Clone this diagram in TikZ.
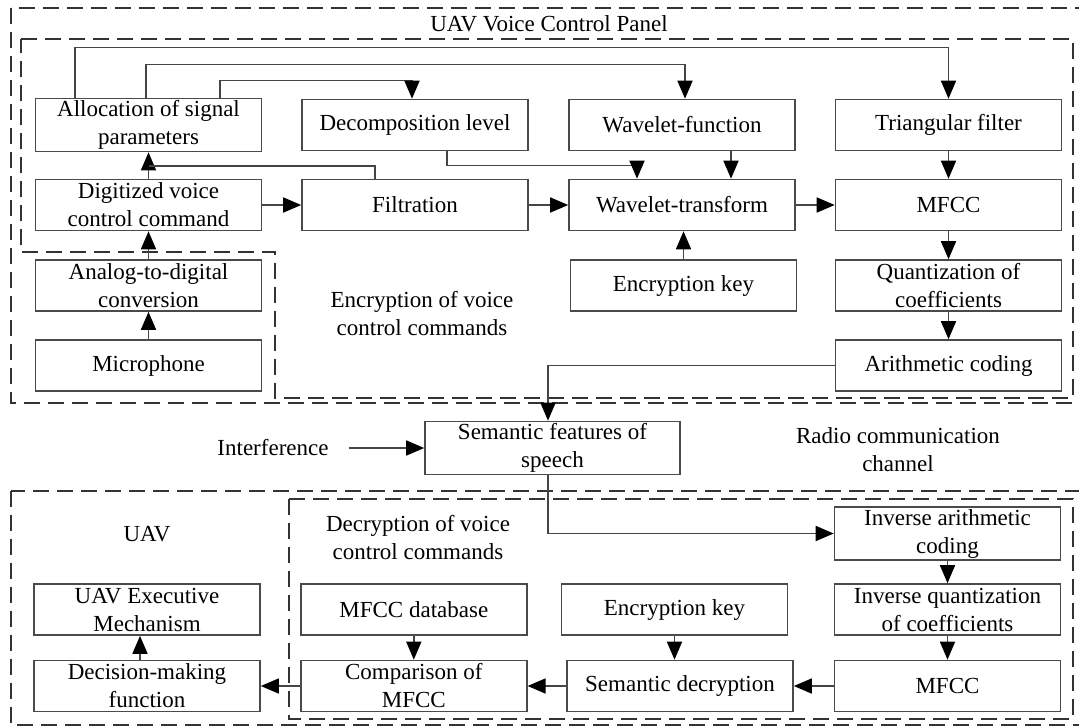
\documentclass[tikz,border=0pt]{standalone}
\usepackage{fontspec}
\setmainfont{Liberation Serif}
\usetikzlibrary{arrows.meta,calc}
\definecolor{boxc}{HTML}{4A4A4A}
\definecolor{dashc}{HTML}{333333}
\definecolor{linec}{HTML}{454545}
\begin{document}
\begin{tikzpicture}[x=1pt,y=-1pt,
  font=\fontsize{23}{28}\selectfont,
  box/.style={draw=boxc, line width=1.6pt, minimum width=226pt, minimum height=51pt, align=center, inner sep=2pt},
  conn/.style={draw=linec, line width=1.6pt},
  arr/.style={conn, -{Triangle[length=18pt,width=15pt,color=black]}},
  dashbox/.style={draw=dashc, line width=2.4pt, dash pattern=on 16pt off 8pt},
  lbl/.style={align=center, inner sep=0pt}]
\useasboundingbox (0,0) rectangle (1079,726);

% dashed frames
\draw[dashbox] (11,8) rectangle (1092,403);
\draw[dashbox] (21,39) -- (1073,39) -- (1073,398) -- (275,398) -- (275,252) -- (21,252) -- cycle;
\draw[dashbox] (11,491) rectangle (1092,725);
\draw[dashbox] (289,499) rectangle (1073,719);

% labels
\node[lbl] (ttl) at (549,24) {UAV Voice Control Panel};
\node[lbl] (enc) at (422,314) {Encryption of voice\\control commands};
\node[lbl] (radio) at (898,450) {Radio communication\\channel};
\node[lbl] (uav) at (147,534) {UAV};
\node[lbl] (decr) at (418,538) {Decryption of voice\\control commands};
\node[lbl] (intf) at (273,448) {Interference};

% top panel boxes
\node[box] (alloc) at (148.5,125) {Allocation of signal\\parameters};
\node[box] (dec) at (415,125) {Decomposition level};
\node[box] (wf) at (682,125) {Wavelet-function};
\node[box] (tri) at (948.5,125) {Triangular filter};
\node[box] (dig) at (148.5,205) {Digitized voice\\control command};
\node[box] (filt) at (415,205) {Filtration};
\node[box] (wt) at (682,205) {Wavelet-transform};
\node[box] (mf1) at (948.5,205) {MFCC};
\node[box] (adc) at (148.5,285.5) {Analog-to-digital\\conversion};
\node[box] (key1) at (683.5,285.5) {Encryption key};
\node[box] (quant) at (948.5,285.5) {Quantization of\\coefficients};
\node[box] (mic) at (148.5,365.5) {Microphone};
\node[box] (arith) at (948.5,365.5) {Arithmetic coding};

% middle
\node[box, minimum width=255pt, minimum height=50pt] (sem) at (552.5,448) {Semantic features of\\speech};

% bottom panel boxes
\node[box] (iac) at (947.5,533.5) {Inverse arithmetic\\coding};
\node[box] (exe) at (147,609.5) {UAV Executive\\Mechanism};
\node[box] (db) at (413.8,609.5) {MFCC database};
\node[box] (key2) at (674.5,609.5) {Encryption key};
\node[box] (iq) at (947.5,609.5) {Inverse quantization\\of coefficients};
\node[box] (dm) at (147,686) {Decision-making\\function};
\node[box] (cmp) at (413.8,686) {Comparison of\\MFCC};
\node[box] (sd) at (680,686) {Semantic decryption};
\node[box] (mf2) at (947.5,686) {MFCC};

% top connectors
\draw[arr] ([xshift=40pt]alloc.north west) -- ++(0,-50) -| (tri.north);
\draw[arr] ([xshift=111pt]alloc.north west) -- ++(0,-33) -| ([xshift=3pt]wf.north);
\draw[arr] ([xshift=185pt]alloc.north west) -- ++(0,-17) -| ([xshift=-3pt]dec.north);
\draw[arr] (dig.north) -- (alloc.south);
\coordinate (j1) at (148.5,166);
\draw[conn] ([xshift=-40pt]filt.north) |- (j1);
\draw[arr] ([xshift=32pt]dec.south) -- ++(0,14) -| ([xshift=-45pt]wt.north);
\draw[arr] ([xshift=49pt]wf.south) -- ([xshift=49pt]wt.north);
\draw[arr] (tri.south) -- (mf1.north);
\draw[arr] (dig.east) -- (filt.west);
\draw[arr] (filt.east) -- (wt.west);
\draw[arr] (wt.east) -- (mf1.west);
\draw[arr] (key1.north) -- (key1.north |- wt.south);
\draw[arr] (mf1.south) -- (quant.north);
\draw[arr] (quant.south) -- (arith.north);
\draw[arr] (adc.north) -- (dig.south);
\draw[arr] (mic.north) -- (adc.south);
\draw[arr] (arith.west) -| ([xshift=-4.5pt]sem.north);
\draw[arr] ([xshift=20pt]intf.east) -- (sem.west);

% bottom connectors
\draw[arr] ([xshift=-4.5pt]sem.south) |- (iac.west);
\draw[arr] (iac.south) -- (iq.north);
\draw[arr] (iq.south) -- (mf2.north);
\draw[arr] (mf2.west) -- (sd.east);
\draw[arr] (key2.south) -- (key2.south |- sd.north);
\draw[arr] (sd.west) -- (cmp.east);
\draw[arr] (db.south) -- (cmp.north);
\draw[arr] (cmp.west) -- (dm.east);
\draw[arr] ([xshift=-7pt]dm.north) -- ([xshift=-7pt]exe.south);
\end{tikzpicture}
\end{document}
